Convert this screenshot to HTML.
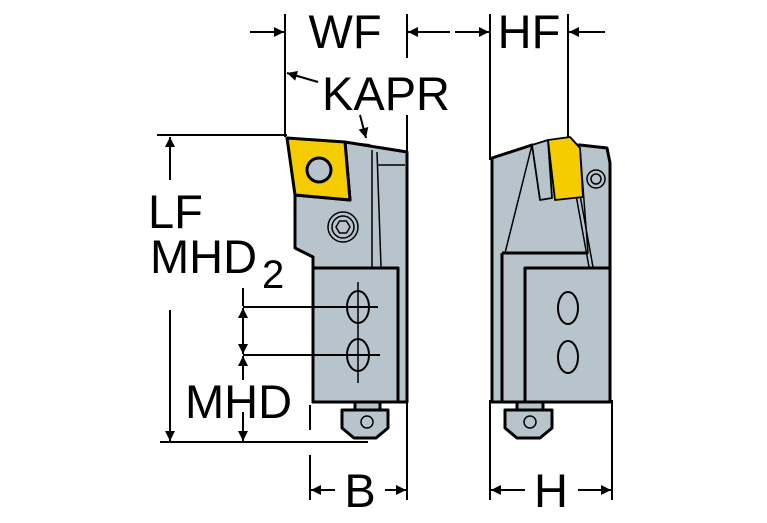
<!DOCTYPE html>
<html><head><meta charset="utf-8"><style>
html,body{margin:0;padding:0;background:#fff;}
svg{display:block;}
text{font-family:"Liberation Sans",sans-serif;fill:#000;}
</style></head><body>
<svg width="767" height="523" viewBox="0 0 767 523" xmlns="http://www.w3.org/2000/svg">
<defs>
<marker id="a" viewBox="0 0 10 10" refX="10" refY="5" markerWidth="16" markerHeight="10" markerUnits="userSpaceOnUse" orient="auto"><path d="M0,0L10,5L0,10z" fill="#000"/></marker>
</defs>
<g stroke="#000" stroke-width="2" fill="none">
<line x1="285" y1="14" x2="285" y2="137"/>
<line x1="407" y1="14" x2="407" y2="58"/>
<line x1="407" y1="115" x2="407" y2="500"/>
<line x1="250" y1="32" x2="284" y2="32" marker-end="url(#a)"/>
<line x1="450" y1="32" x2="408" y2="32" marker-end="url(#a)"/>
<line x1="490" y1="14" x2="490" y2="160"/>
<line x1="568" y1="14" x2="568" y2="140"/>
<line x1="455" y1="32" x2="489" y2="32" marker-end="url(#a)"/>
<line x1="605" y1="32" x2="569" y2="32" marker-end="url(#a)"/>
<line x1="318" y1="82" x2="287" y2="73" marker-end="url(#a)"/>
<line x1="360" y1="115" x2="366" y2="138" marker-end="url(#a)"/>
<line x1="350" y1="143" x2="370" y2="145"/>
<line x1="157" y1="135" x2="287" y2="135"/>
<line x1="170" y1="180" x2="170" y2="137" marker-end="url(#a)"/>
<line x1="170" y1="310" x2="170" y2="441" marker-end="url(#a)"/>
<line x1="160" y1="442" x2="368" y2="442"/>
<line x1="243" y1="288" x2="243" y2="306" />
<line x1="243" y1="330" x2="243" y2="308" marker-end="url(#a)"/>
<line x1="243" y1="330" x2="243" y2="354" marker-end="url(#a)"/>
<line x1="243" y1="380" x2="243" y2="356" marker-end="url(#a)"/>
<line x1="243" y1="412" x2="243" y2="441" marker-end="url(#a)"/>
<line x1="310" y1="405" x2="310" y2="430"/>
<line x1="310" y1="455" x2="310" y2="500"/>
<line x1="335" y1="490" x2="311" y2="490" marker-end="url(#a)"/>
<line x1="385" y1="490" x2="406" y2="490" marker-end="url(#a)"/>
<line x1="490" y1="400" x2="490" y2="500"/>
<line x1="612" y1="400" x2="612" y2="500"/>
<line x1="525" y1="490" x2="491" y2="490" marker-end="url(#a)"/>
<line x1="578" y1="490" x2="611" y2="490" marker-end="url(#a)"/>
</g>
<g stroke="#000" stroke-width="3" stroke-linejoin="round">
<path d="M345,142L407,152L407,402L313,402L313,257L295,248L295,195L350,200z" fill="#b8c4cc"/>
<line x1="372" y1="150" x2="372" y2="267" stroke-width="1.5"/>
<line x1="377" y1="152" x2="381" y2="267" stroke-width="1.5"/>
<line x1="377" y1="165" x2="405" y2="165" stroke-width="1.5"/>
<rect x="313" y="268" width="85" height="134" fill="#b8c4cc"/>
<path d="M287,138L345,142L350,200L295,195z" fill="#f5cc00"/>
<circle cx="319" cy="170" r="12" fill="#b8c4cc"/>
<circle cx="343" cy="227" r="15" fill="#b8c4cc" stroke-width="1.5"/>
<circle cx="343" cy="227" r="11" fill="none" stroke-width="1.5"/>
<path d="M336,227l3.5,-6h7l3.5,6l-3.5,6h-7z" fill="none" stroke-width="1.5"/>
<ellipse cx="358" cy="307" rx="11" ry="16" fill="none" stroke-width="2"/>
<ellipse cx="358" cy="355" rx="11" ry="16" fill="none" stroke-width="2"/>
<line x1="358" y1="282" x2="358" y2="383" stroke-width="1.5"/>
<line x1="243" y1="307" x2="378" y2="307" stroke-width="2"/>
<line x1="243" y1="355" x2="380" y2="355" stroke-width="2"/>
<rect x="355" y="402" width="25" height="8" fill="#b8c4cc"/>
<path d="M342,410h46v18l-12,10h-22l-12,-10z" fill="#b8c4cc"/>
<circle cx="367" cy="422" r="6" fill="none" stroke-width="1.5"/>
</g>
<g stroke="#000" stroke-width="3" stroke-linejoin="round">
<path d="M492,158L532,145L580,145L607,148L610,163L610,402L492,402z" fill="#b8c4cc"/>
<path d="M532,145L505,253L588,253L580,148" fill="none" stroke-width="1.5"/>
<line x1="502" y1="253" x2="588" y2="253"/>
<line x1="502" y1="253" x2="502" y2="402"/>
<line x1="580" y1="195" x2="593" y2="267" stroke-width="1.5"/>
<line x1="576" y1="195" x2="589" y2="267" stroke-width="1.5"/>
<rect x="525" y="268" width="85" height="134" fill="#b8c4cc"/>
<path d="M532,145L548,140L552,198L540,200z" fill="#b8c4cc" stroke-width="1.8"/>
<path d="M548,140L570,137L580,148L583,197L555,200z" fill="#f5cc00" stroke-width="1.8"/>
<circle cx="596" cy="179" r="9" fill="#b8c4cc" stroke-width="1.5"/>
<circle cx="596" cy="179" r="5" fill="none" stroke-width="1.5"/>
<ellipse cx="568" cy="308" rx="10" ry="16" fill="none" stroke-width="2"/>
<ellipse cx="568" cy="357" rx="10" ry="16" fill="none" stroke-width="2"/>
<rect x="517" y="402" width="26" height="8" fill="#b8c4cc"/>
<path d="M505,410h47v18l-12,10h-23l-12,-10z" fill="#b8c4cc"/>
<circle cx="530" cy="422" r="6" fill="none" stroke-width="1.5"/>
</g>
<g font-size="47">
<text x="345" y="48" text-anchor="middle">WF</text>
<text x="529" y="48" text-anchor="middle">HF</text>
<text x="322" y="110">KAPR</text>
<text x="148" y="228">LF</text>
<text x="150" y="273">MHD</text>
<text x="262" y="288" font-size="40">2</text>
<text x="185" y="418">MHD</text>
<text x="360" y="507" text-anchor="middle">B</text>
<text x="551" y="507" text-anchor="middle">H</text>
</g>
</svg>
</body></html>
